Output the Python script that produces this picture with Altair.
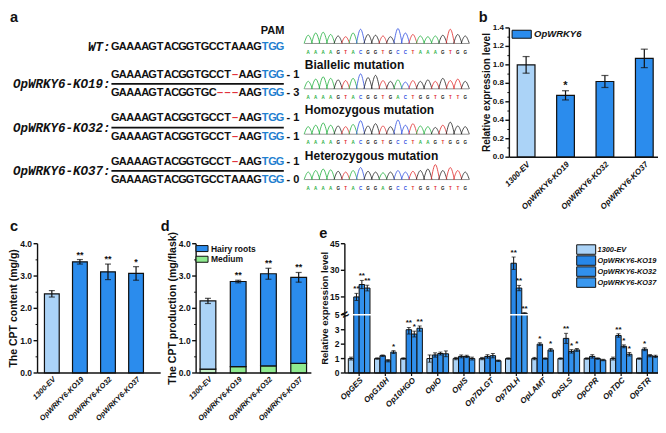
import altair as alt
import pandas as pd

W, H = 650, 417


def X(v):
    return round((v - 2) * 0.985, 2)


def Y(v):
    return round((v - 3.5) * 0.972, 2)


FONT = "Liberation Sans"
MONO = "Liberation Mono"
LIGHT = "#abd3f7"
BLUE = "#2b8ced"
KO_BLUES = ["#2787e8", "#3190ec", "#3a98ef"]
GREEN = "#8fea8f"
LIGHT_GREEN = "#c8f3c8"
EDGE = "#111111"
BASE_COLORS = {"A": "#1fae3c", "C": "#2f4fe0", "G": "#202020", "T": "#e02828"}

# ---------------- data ----------------
# panel a
seq_rows = [
    "GAAAAGTACGGTGCCTAAAGTGG",
    "GAAAAGTACGGTGCCT-AAGTGG",
    "GAAAAGTACGGTGC---AAGTGG",
    "GAAAAGTACGGTGCCT-AAGTGG",
    "GAAAAGTACGGTGCCT-AAGTGG",
    "GAAAAGTACGGTGCCT-AAGTGG",
    "GAAAAGTACGGTGCCTAAAGTGG",
]
seq_suffix = ["", "- 1", "- 3", "- 1", "- 1", "- 1", "- 0"]
sample_names = ["WT:", "OpWRKY6-KO19:", "OpWRKY6-KO32:", "OpWRKY6-KO37:"]
sample_row = [0, 1.5, 3.5, 5.5]
pair_rows = [1.5, 3.5, 5.5]
pam_text = "PAM"

trace_bases = [
    "AAAAGTACGGTGCCTAAAGTGG",
    "AAAAGTACGGTGACTGGTGTTG",
    "AAAAGTACGGTGCCTAAGTGGG",
    "AAAAGTACGGAGCCTGGTGTTG",
]
trace_heights = [
    [0.55, 0.7, 0.75, 0.6, 0.5, 0.45, 0.7, 0.95, 0.6, 0.55, 0.5, 0.45, 1.0, 0.7, 0.6, 0.5, 0.45, 0.5, 0.55, 0.95, 0.6, 0.5],
    [0.5, 0.65, 0.8, 0.7, 0.6, 0.55, 0.7, 1.0, 0.75, 0.9, 0.55, 0.5, 0.6, 0.45, 0.55, 0.5, 0.6, 0.5, 0.7, 0.55, 0.65, 0.5],
    [0.5, 0.6, 0.75, 0.6, 0.55, 0.5, 0.65, 0.9, 0.55, 0.7, 0.55, 0.5, 0.95, 0.6, 0.7, 0.55, 0.5, 0.45, 0.6, 0.8, 0.55, 0.5],
    [0.5, 0.6, 0.7, 0.65, 0.55, 0.5, 0.6, 0.8, 0.55, 0.5, 0.45, 0.5, 0.6, 0.5, 0.55, 0.6, 0.7, 1.0, 0.6, 0.8, 0.6, 0.5],
]
mutation_types = ["Biallelic mutation", "Homozygous mutation", "Heterozygous mutation"]

# panel b
genotypes = ["1300-EV", "OpWRKY6-KO19", "OpWRKY6-KO32", "OpWRKY6-KO37"]
b_mean = [1.00, 0.67, 0.82, 1.07]
b_err = [0.09, 0.05, 0.065, 0.10]
b_sig = ["", "*", "", ""]
b_ticks = [0.0, 0.2, 0.4, 0.6, 0.8, 1.0, 1.2, 1.4]
b_minor = [0.1, 0.3, 0.5, 0.7, 0.9, 1.1, 1.3]
b_legend = ["OpWRKY6"]

# panel c
c_mean = [2.45, 3.44, 3.13, 3.08]
c_err = [0.10, 0.07, 0.24, 0.21]
c_sig = ["", "**", "**", "*"]
cd_ticks = [0.0, 1.0, 2.0, 3.0, 4.0]
cd_minor = [0.5, 1.5, 2.5, 3.5]

# panel d
d_hairy = [2.11, 2.63, 2.85, 2.66]
d_medium = [0.12, 0.20, 0.22, 0.30]
d_err = [0.08, 0.04, 0.17, 0.15]
d_sig = ["", "**", "**", "**"]
d_legend = ["Hairy roots", "Medium"]

# panel e
genes = ["OpGES", "OpG10H", "Op10HGO", "OpIO", "OpIS", "Op7DLGT", "Op7DLH",
         "OpLAMT", "OpSLS", "OpCPR", "OpTDC", "OpSTR"]
e_series = ["1300-EV", "OpWRKY6-KO19", "OpWRKY6-KO32", "OpWRKY6-KO37"]
e_ev = [1.0, 1.0, 1.0, 1.0, 1.0, 1.0, 1.0, 1.0, 1.0, 1.0, 1.0, 1.0]
e_ko19 = [15.0, 1.2, 3.0, 1.25, 1.15, 1.15, 34.0, 2.0, 2.4, 1.15, 2.6, 1.65]
e_ko32 = [22.0, 0.85, 2.7, 1.35, 1.15, 1.2, 20.0, 1.0, 1.5, 1.0, 1.85, 1.2]
e_ko37 = [20.0, 1.45, 3.2, 1.33, 1.0, 0.85, 5.8, 1.6, 1.6, 0.9, 1.3, 1.15]
e_ev_err = [0.1, 0.05, 0.05, 0.25, 0.08, 0.08, 0.05, 0.08, 0.05, 0.05, 0.1, 0.05]
e_ko19_err = [2.0, 0.05, 0.3, 0.15, 0.1, 0.12, 3.5, 0.1, 0.35, 0.12, 0.12, 0.1]
e_ko32_err = [2.3, 0.08, 0.2, 0.1, 0.08, 0.15, 1.5, 0.05, 0.12, 0.05, 0.1, 0.08]
e_ko37_err = [1.6, 0.1, 0.3, 0.2, 0.1, 0.05, 0.3, 0.1, 0.1, 0.05, 0.12, 0.08]
e_ko19_sig = ["**", "", "**", "", "", "", "**", "*", "**", "", "**", "*"]
e_ko32_sig = ["**", "", "*", "", "", "", "**", "", "*", "", "*", ""]
e_ko37_sig = ["**", "*", "**", "", "", "", "**", "*", "*", "", "*", ""]
e_ev_sig = [""] * 12
e_ticks = [0, 1, 2, 3, 5, 15, 30, 45]

# ---------------- helpers ----------------
ONE = pd.DataFrame({"k": [0]})


def band(a, b, n, f, w, s, domain):
    pi = 1 - w / s
    po = ((b - a) / s - n + pi) / 2
    al = (f - a) / ((b - a) - s * (n - pi))
    return alt.Scale(domain=domain, range=[X(a), X(b)], paddingInner=pi, paddingOuter=po, align=al)


def y_axis(ys, ax, lo, hi, vals, labels, minor, title, tx, tsize, lsize=8.5):
    out = []
    out.append(alt.Chart(pd.DataFrame({"a": [lo], "b": [hi]})).mark_rule(color=EDGE, strokeWidth=1.4).encode(
        x=alt.value(X(ax)), y=alt.Y("a:Q", scale=ys, axis=None), y2="b:Q"))
    tdf = pd.DataFrame({"v": vals, "lab": labels})
    out.append(alt.Chart(tdf).mark_rule(color=EDGE, strokeWidth=1.4).encode(
        x=alt.value(X(ax) - 4), x2=alt.value(X(ax)), y=alt.Y("v:Q", scale=ys, axis=None)))
    if minor:
        out.append(alt.Chart(pd.DataFrame({"v": minor})).mark_rule(color=EDGE, strokeWidth=1).encode(
            x=alt.value(X(ax) - 2), x2=alt.value(X(ax)), y=alt.Y("v:Q", scale=ys, axis=None)))
    out.append(alt.Chart(tdf).mark_text(font=FONT, fontWeight="bold", fontSize=lsize, align="right",
                                        baseline="middle", color=EDGE).encode(
        x=alt.value(X(ax) - 5.5), y=alt.Y("v:Q", scale=ys, axis=None), text="lab:N"))
    mid = (ys.range[0] + ys.range[-1]) / 2
    out.append(alt.Chart(ONE).mark_text(text=title, font=FONT, fontWeight="bold", fontSize=tsize, angle=270,
                                        align="center", baseline="middle", color=EDGE).encode(
        x=alt.value(X(tx)), y=alt.value(mid)))
    return out


def x_axis(xs, ys, cats, a, b, yb, lsize, ticks=False, gap=3.5):
    out = []
    out.append(alt.Chart(pd.DataFrame({"z": [0.0]})).mark_rule(color=EDGE, strokeWidth=1.4).encode(
        x=alt.value(X(a)), x2=alt.value(X(b)), y=alt.Y("z:Q", scale=ys, axis=None)))
    ldf = pd.DataFrame({"cat": cats})
    if ticks:
        out.append(alt.Chart(ldf).mark_rule(color=EDGE, strokeWidth=1.2).encode(
            x=alt.X("cat:N", scale=xs, axis=None), y=alt.value(Y(yb)), y2=alt.value(Y(yb) + 3)))
    out.append(alt.Chart(ldf).mark_text(font=FONT, fontWeight="bold", fontStyle="italic", fontSize=lsize,
                                        angle=315, align="right", baseline="top", color=EDGE).encode(
        x=alt.X("cat:N", scale=xs, axis=None), y=alt.value(Y(yb) + gap), text="cat:N"))
    return out


# ---------------- panel a ----------------
ROW_Y = [27, 44, 72, 91, 117, 136, 162, 180]
row_scale = alt.Scale(domain=[-1, 0, 1, 2, 3, 4, 5, 6], range=[Y(v) for v in ROW_Y], nice=False, zero=False)
seq_scale = alt.Scale(domain=[0, 23], range=[X(107), X(282)], nice=False, zero=False)

chars = []
for r, s in enumerate(seq_rows):
    for i, ch in enumerate(s):
        kind = "del" if ch == "-" else ("pam" if i >= 20 else "seq")
        chars.append({"row": r, "pos": i + 0.5, "ch": "\u2013" if ch == "-" else ch, "kind": kind})
chars_df = pd.DataFrame(chars)
suffix_df = pd.DataFrame({"row": list(range(len(seq_rows))), "pos": [len(s) + 0.35 for s in seq_rows], "txt": seq_suffix})
names_df = pd.DataFrame({"row": sample_row, "pos": [0.0] * 4, "txt": sample_names})
pam_df = pd.DataFrame({"row": [-1], "pos": [21.5], "txt": [pam_text]})
sep_df = pd.DataFrame({"row": pair_rows, "x0": [0.0] * 3, "x1": [23.0] * 3})

ax_x = alt.X("pos:Q", scale=seq_scale, axis=None)
ax_y = alt.Y("row:Q", scale=row_scale, axis=None)

a_chars = alt.Chart(chars_df).mark_text(font=FONT, fontWeight="bold", fontSize=11, align="center", baseline="middle").encode(
    x=ax_x, y=ax_y, text="ch:N",
    color=alt.Color("kind:N", scale=alt.Scale(domain=["seq", "del", "pam"], range=["#111111", "#e2323c", "#1f7fd0"]), legend=None))
a_suffix = alt.Chart(suffix_df).mark_text(font=FONT, fontWeight="bold", fontSize=11, align="left", baseline="middle", color="#111111").encode(
    x=ax_x, y=ax_y, text="txt:N")
a_names = alt.Chart(names_df).mark_text(font=MONO, fontWeight="bold", fontStyle="italic", fontSize=12.5, align="right", baseline="middle", color="#111111", dx=-1).encode(
    x=ax_x, y=ax_y, text="txt:N")
a_pam = alt.Chart(pam_df).mark_text(font=FONT, fontWeight="bold", fontSize=11, align="center", baseline="middle", color="#111111").encode(
    x=ax_x, y=ax_y, text="txt:N")
a_sep = alt.Chart(sep_df).mark_rule(color="#111111", strokeWidth=1.8).encode(
    x=alt.X("x0:Q", scale=seq_scale, axis=None), x2="x1:Q", y=ax_y)
pa1 = alt.layer(a_chars, a_suffix, a_names, a_pam, a_sep)

# chromatograms
tr_x = alt.Scale(domain=[-0.5, 21.5], range=[X(303), X(470)], nice=False, zero=False)
tr_y = alt.Scale(domain=[0, 3], range=[Y(40), Y(180)], nice=False, zero=False)
pts, lets, bases_lines = [], [], []
for k, (bs, hs) in enumerate(zip(trace_bases, trace_heights)):
    for j, (b, h) in enumerate(zip(bs, hs)):
        for dxx, f in ((-0.55, 0.0), (0.0, 1.0), (0.55, 0.0)):
            pts.append({"peak": f"{k}-{j}", "base": b, "x": j + dxx, "y": k - 0.33 * h * f})
        lets.append({"base": b, "x": j, "y": k + 0.2})
    bases_lines.append({"x0": -0.5, "x1": 21.5, "y": k})
pts_df = pd.DataFrame(pts)
lets_df = pd.DataFrame(lets)
bl_df = pd.DataFrame(bases_lines)
mut_df = pd.DataFrame({"x": [-0.45] * 3, "y": [k - 0.53 for k in (1, 2, 3)], "txt": mutation_types})
base_scale = alt.Scale(domain=list(BASE_COLORS), range=list(BASE_COLORS.values()))

t_lines = alt.Chart(pts_df).mark_line(interpolate="monotone", strokeWidth=0.8).encode(
    x=alt.X("x:Q", scale=tr_x, axis=None), y=alt.Y("y:Q", scale=tr_y, axis=None),
    color=alt.Color("base:N", scale=base_scale, legend=None), detail="peak:N")
t_base = alt.Chart(bl_df).mark_rule(color="#666666", strokeWidth=0.7).encode(
    x=alt.X("x0:Q", scale=tr_x, axis=None), x2="x1:Q", y=alt.Y("y:Q", scale=tr_y, axis=None))
t_lets = alt.Chart(lets_df).mark_text(font=FONT, fontSize=4.5, fontWeight="bold", baseline="middle").encode(
    x=alt.X("x:Q", scale=tr_x, axis=None), y=alt.Y("y:Q", scale=tr_y, axis=None), text="base:N",
    color=alt.Color("base:N", scale=base_scale, legend=None))
t_mut = alt.Chart(mut_df).mark_text(font=FONT, fontSize=12, fontWeight="bold", align="left", baseline="middle", color="#111111").encode(
    x=alt.X("x:Q", scale=tr_x, axis=None), y=alt.Y("y:Q", scale=tr_y, axis=None), text="txt:N")
pa2 = alt.layer(t_base, t_lines, t_lets, t_mut)


def err_layers(df, xe, ys, cap, sw=1.2, star_size=9, xo=None):
    enc_x = {"x": xe} if xo is None else {"x": xe, "xOffset": xo}
    lo = alt.Y("lo:Q", scale=ys, axis=None)
    hi = alt.Y("hi:Q", scale=ys, axis=None)
    return [
        alt.Chart(df).mark_rule(color=EDGE, strokeWidth=sw).encode(y=lo, y2="hi:Q", **enc_x),
        alt.Chart(df).mark_tick(color=EDGE, thickness=sw, size=cap).encode(y=lo, **enc_x),
        alt.Chart(df).mark_tick(color=EDGE, thickness=sw, size=cap).encode(y=hi, **enc_x),
        alt.Chart(df).mark_text(font=FONT, fontWeight="bold", fontSize=star_size, baseline="bottom", dy=0,
                                color=EDGE).encode(y=hi, text="sig:N", **enc_x),
    ]


# ---------------- panel b ----------------
b_df = pd.DataFrame({"g": genotypes, "mean": b_mean, "err": b_err, "sig": b_sig,
                     "ser": ["1300-EV", "OpWRKY6", "OpWRKY6", "OpWRKY6"]})
b_df["lo"] = b_df["mean"] - b_df["err"]
b_df["hi"] = b_df["mean"] + b_df["err"]
b_df["zero"] = 0.0
bx = band(511, 662, 4, 519, 18, 40, genotypes)
by = alt.Scale(domain=[0, 1.4], range=[Y(157), Y(24)], nice=False, zero=False)
b_color = alt.Scale(domain=["1300-EV", "OpWRKY6"], range=[LIGHT, BLUE])
bxe = alt.X("g:N", scale=bx, axis=None)
b_bars = alt.Chart(b_df).mark_bar(stroke=EDGE, strokeWidth=1.2).encode(
    x=bxe, y=alt.Y("mean:Q", scale=by, axis=None), y2="zero:Q",
    color=alt.Color("ser:N", scale=b_color, legend=None))
pb = alt.layer(b_bars, *err_layers(b_df, bxe, by, 7, star_size=11),
               *y_axis(by, 511, 0, 1.4, b_ticks, [f"{v:.1f}" for v in b_ticks], b_minor,
                       "Relative expression level", 488, 10, 8),
               *x_axis(bx, by, genotypes, 511, 662, 157, 8))
b_leg = alt.layer(
    alt.Chart(pd.DataFrame({"ser": b_legend})).mark_point(shape="M-2.4,-1H2.4V1H-2.4Z", size=64, filled=True, opacity=1,
                                                           stroke=EDGE, strokeWidth=1).encode(
        x=alt.value(X(523.5)), y=alt.value(Y(30.5)), color=alt.Color("ser:N", scale=b_color, legend=None)),
    alt.Chart(pd.DataFrame({"ser": b_legend})).mark_text(font=FONT, fontWeight="bold", fontStyle="italic", fontSize=9.5,
                                                          align="left", baseline="middle", color=EDGE).encode(
        x=alt.value(X(536)), y=alt.value(Y(30.5)), text="ser:N"))

# ---------------- panel c ----------------
c_df = pd.DataFrame({"g": genotypes, "mean": c_mean, "err": c_err, "sig": c_sig,
                     "ser": ["EV", "KO", "KO", "KO"]})
c_df["lo"] = c_df["mean"] - c_df["err"]
c_df["hi"] = c_df["mean"] + c_df["err"]
c_df["zero"] = 0.0
cx = band(32, 157, 4, 39, 15, 28.5, genotypes)
cy = alt.Scale(domain=[0, 4], range=[Y(379), Y(246)], nice=False, zero=False)
cxe = alt.X("g:N", scale=cx, axis=None)
c_bars = alt.Chart(c_df).mark_bar(stroke=EDGE, strokeWidth=1.2).encode(
    x=cxe, y=alt.Y("mean:Q", scale=cy, axis=None), y2="zero:Q",
    color=alt.Color("ser:N", scale=alt.Scale(domain=["EV", "KO"], range=[LIGHT, BLUE]), legend=None))
pc = alt.layer(c_bars, *err_layers(c_df, cxe, cy, 6),
               *y_axis(cy, 32, 0, 4, cd_ticks, [f"{v:.1f}" for v in cd_ticks], cd_minor,
                       "The CPT content (mg/g)", 8.5, 10.5, 8.5),
               *x_axis(cx, cy, genotypes, 32, 157, 379, 7.4, gap=2.5))

# ---------------- panel d ----------------
d_rows = []
for i, g in enumerate(genotypes):
    ev = i == 0
    d_rows.append({"g": g, "seg": "EV medium" if ev else "Medium", "lo": 0.0, "hi": d_medium[i]})
    d_rows.append({"g": g, "seg": "EV hairy" if ev else "Hairy roots", "lo": d_medium[i], "hi": d_medium[i] + d_hairy[i]})
d_seg = pd.DataFrame(d_rows)
d_tot = pd.DataFrame({"g": genotypes, "tot": [m + h for m, h in zip(d_medium, d_hairy)], "err": d_err, "sig": d_sig})
d_tot["lo"] = d_tot["tot"] - d_tot["err"]
d_tot["hi"] = d_tot["tot"] + d_tot["err"]
dx = band(193, 310, 4, 197, 16, 30.7, genotypes)
dy = alt.Scale(domain=[0, 4], range=[Y(379), Y(246)], nice=False, zero=False)
d_color = alt.Scale(domain=["Hairy roots", "Medium", "EV hairy", "EV medium"], range=[BLUE, GREEN, LIGHT, LIGHT_GREEN])
dxe = alt.X("g:N", scale=dx, axis=None)
d_bars = alt.Chart(d_seg).mark_bar(stroke=EDGE, strokeWidth=1.2).encode(
    x=dxe, y=alt.Y("lo:Q", scale=dy, axis=None), y2="hi:Q",
    color=alt.Color("seg:N", scale=d_color, legend=None))
pd_ = alt.layer(d_bars, *err_layers(d_tot, dxe, dy, 6),
                *y_axis(dy, 193, 0, 4, cd_ticks, [f"{v:.1f}" for v in cd_ticks], cd_minor,
                        "The CPT production (mg/flask)", 170, 10.5, 8.5),
                *x_axis(dx, dy, genotypes, 193, 310, 379, 7.4, gap=2.5))
d_leg_df = pd.DataFrame({"seg": d_legend, "i": [0, 1]})
d_leg_y = alt.Scale(domain=[0, 1], range=[Y(251), Y(262)])
d_leg = alt.layer(
    alt.Chart(d_leg_df).mark_point(shape="M-2,-1H2V1H-2Z", size=36, filled=True, opacity=1, stroke=EDGE, strokeWidth=1).encode(
        x=alt.value(X(199)), y=alt.Y("i:Q", scale=d_leg_y, axis=None), color=alt.Color("seg:N", scale=d_color, legend=None)),
    alt.Chart(d_leg_df).mark_text(font=FONT, fontWeight="bold", fontSize=8.5, align="left", baseline="middle", color=EDGE).encode(
        x=alt.value(X(208)), y=alt.Y("i:Q", scale=d_leg_y, axis=None), text="seg:N"))

# ---------------- panel e ----------------
e_rows = []
for s, vals, errs, sigs in zip(e_series, [e_ev, e_ko19, e_ko32, e_ko37],
                               [e_ev_err, e_ko19_err, e_ko32_err, e_ko37_err],
                               [e_ev_sig, e_ko19_sig, e_ko32_sig, e_ko37_sig]):
    for g, v, e, sg in zip(genes, vals, errs, sigs):
        e_rows.append({"gene": g, "ser": s, "val": v, "lo": v - e, "hi": v + e, "sig": sg, "zero": 0.0})
e_df = pd.DataFrame(e_rows)
ex = band(344, 666, 12, 347.5, 22, 26.6, genes)
ey = alt.Scale(domain=[0, 3, 5, 45], range=[Y(379), Y(334.5), Y(319), Y(246)], nice=False, zero=False)
e_color = alt.Scale(domain=e_series, range=[LIGHT] + KO_BLUES)
exe = alt.X("gene:N", scale=ex, axis=None)
exo = alt.XOffset("ser:N", scale=alt.Scale(domain=e_series, paddingInner=0, paddingOuter=0))
e_bars = alt.Chart(e_df).mark_bar(stroke=EDGE, strokeWidth=1).encode(
    x=exe, xOffset=exo, y=alt.Y("val:Q", scale=ey, axis=None), y2="zero:Q",
    color=alt.Color("ser:N", scale=e_color, legend=None))
brk_df = pd.DataFrame({"v": [5.0]})
e_break = alt.Chart(brk_df).mark_rule(color="white", strokeWidth=1.5).encode(
    y=alt.Y("v:Q", scale=ey, axis=None), x=alt.value(X(345.5)), x2=alt.value(X(666)))
e_brk_mark = alt.Chart(brk_df).mark_text(text="\u2248", font=FONT, fontSize=13, fontWeight="bold", color=EDGE,
                                         baseline="middle", angle=330).encode(
    y=alt.Y("v:Q", scale=ey, axis=None), x=alt.value(X(344.5)))
pe = alt.layer(e_bars, *err_layers(e_df, exe, ey, 4, sw=1, star_size=8, xo=exo), e_break,
               *y_axis(ey, 344, 0, 45, e_ticks, [str(v) for v in e_ticks], None,
                       "Relative expression level", 324, 9.5, 8.5),
               e_brk_mark,
               *x_axis(ex, ey, genes, 344, 666, 379, 8, ticks=True))
e_leg_df = pd.DataFrame({"ser": e_series, "i": [0, 1, 2, 3]})
e_leg_y = alt.Scale(domain=[0, 3], range=[Y(252), Y(286)])
e_leg = alt.layer(
    alt.Chart(e_leg_df).mark_point(shape="M-2,-1H2V1H-2Z", size=90, filled=True, opacity=1, stroke=EDGE, strokeWidth=1).encode(
        x=alt.value(X(589)), y=alt.Y("i:Q", scale=e_leg_y, axis=None), color=alt.Color("ser:N", scale=e_color, legend=None)),
    alt.Chart(e_leg_df).mark_text(font=FONT, fontWeight="bold", fontStyle="italic", fontSize=7.4, align="left",
                                  baseline="middle", color=EDGE).encode(
        x=alt.value(X(600.5)), y=alt.Y("i:Q", scale=e_leg_y, axis=None), text="ser:N"))

# ---------------- panel letters ----------------
panel_letters = ["a", "b", "c", "d", "e"]
letter_xy = [(4, 18), (480, 18), (4, 233), (157, 233), (318, 240)]
letter_layers = [
    alt.Chart(ONE).mark_text(text=t, font=FONT, fontWeight="bold", fontSize=14.5,
                             align="left", baseline="alphabetic", color="#111111").encode(
        x=alt.value(X(px)), y=alt.value(Y(py)))
    for t, (px, py) in zip(panel_letters, letter_xy)
]

chart = alt.layer(pa1, pa2, pb, b_leg, pc, pd_, d_leg, pe, e_leg, *letter_layers).resolve_scale(
    x="independent", y="independent", color="independent"
).properties(
    width=W, height=H, autosize=alt.AutoSizeParams(type="none"), padding=0
).configure_view(stroke=None)

chart.save("out.html", embed_options={"renderer": "svg", "actions": False})
